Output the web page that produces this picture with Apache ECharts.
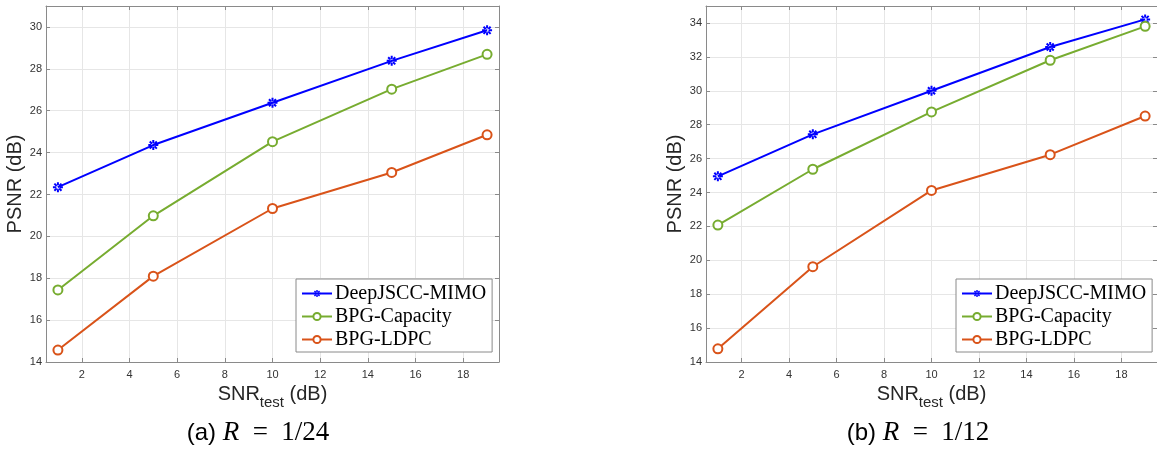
<!DOCTYPE html>
<html>
<head>
<meta charset="utf-8">
<script src="https://cdn.jsdelivr.net/npm/echarts@6/dist/echarts.min.js"></script>
<style>html,body{margin:0;padding:0;background:#fff;}#c{width:1157px;height:453px;}</style>
</head>
<body>
<div id="c"></div>
<script>
const snr = [1, 5, 10, 15, 19];
const seriesNames = ['DeepJSCC-MIMO', 'BPG-Capacity', 'BPG-LDPC'];
// (a) R = 1/24
const a_deep = [22.35, 24.36, 26.38, 28.38, 29.84];
const a_cap  = [17.44, 20.98, 24.52, 27.03, 28.69];
const a_ldpc = [14.57, 18.10, 21.33, 23.05, 24.85];
// (b) R = 1/12
const b_deep = [24.95, 27.43, 30.00, 32.58, 34.21];
const b_cap  = [22.08, 25.37, 28.75, 31.80, 33.80];
const b_ldpc = [14.78, 19.62, 24.12, 26.23, 28.51];
const xTicks = [2, 4, 6, 8, 10, 12, 14, 16, 18];
const yTicksA = [14, 16, 18, 20, 22, 24, 26, 28, 30];
const yTicksB = [14, 16, 18, 20, 22, 24, 26, 28, 30, 32, 34];
const captions = ['(a)', '(b)'];
const rates = ['1/24', '1/12'];

const colors = ['#0000FF', '#77AC30', '#D95319'];
const asterisk = 'path://M-1,-0.2L1,-0.2L1,0.2L-1,0.2Z M-0.2,-1L0.2,-1L0.2,1L-0.2,1Z M-0.85,-0.57L0.57,0.85L0.85,0.57L-0.57,-0.85Z M0.57,-0.85L-0.85,0.57L-0.57,0.85L0.85,-0.57Z';
const frame = '#8a8a8a';
const sans = 'Liberation Sans';
const serif = 'Liberation Serif';

const grids = [
  {left: 46, top: 6, width: 453, height: 356},
  {left: 706, top: 6, width: 453, height: 356}
];
const yMax = [31, 35];
const yTicks = [yTicksA, yTicksB];
const data = [[a_deep, a_cap, a_ldpc], [b_deep, b_cap, b_ldpc]];

const xAxis = [], yAxis = [], series = [], legend = [], graphic = [];
grids.forEach((g, i) => {
  xAxis.push({
    gridIndex: i, type: 'value', min: 0.5, max: 19.5, position: 'bottom',
    name: '{m|SNR}{s|test}{m| (dB)}', nameLocation: 'middle', nameGap: 17,
    nameTextStyle: {rich: {
      m: {fontFamily: sans, fontSize: 20, color: '#262626', lineHeight: 30, verticalAlign: 'middle'},
      s: {fontFamily: sans, fontSize: 15, color: '#262626', lineHeight: 30, verticalAlign: 'bottom', padding: [10, 0, 0, 0]}
    }},
    axisLine: {show: true, onZero: false, lineStyle: {color: frame, width: 1}},
    axisTick: {show: true, inside: true, length: 4, customValues: xTicks, lineStyle: {color: frame}},
    axisLabel: {customValues: xTicks, fontFamily: sans, fontSize: 11, color: '#333', margin: 7},
    splitLine: {show: true, lineStyle: {color: '#e6e6e6', width: 1}}
  });
  xAxis.push({
    gridIndex: i, type: 'value', min: 0.5, max: 19.5, position: 'top',
    axisLine: {show: true, onZero: false, lineStyle: {color: frame, width: 1}},
    axisTick: {show: true, inside: true, length: 4, customValues: xTicks, lineStyle: {color: frame}},
    axisLabel: {show: false}, splitLine: {show: false}
  });
  yAxis.push({
    gridIndex: i, type: 'value', min: 14, max: yMax[i], position: 'left',
    name: 'PSNR (dB)', nameLocation: 'middle', nameGap: 15, nameRotate: 90,
    nameTextStyle: {fontFamily: sans, fontSize: 20, color: '#262626'},
    axisLine: {show: true, onZero: false, lineStyle: {color: frame, width: 1}},
    axisTick: {show: true, inside: true, length: 4, customValues: yTicks[i], lineStyle: {color: frame}},
    axisLabel: {customValues: yTicks[i], fontFamily: sans, fontSize: 11, color: '#333', margin: 4},
    splitLine: {show: true, lineStyle: {color: '#e6e6e6', width: 1}}
  });
  yAxis.push({
    gridIndex: i, type: 'value', min: 14, max: yMax[i], position: 'right',
    axisLine: {show: true, onZero: false, lineStyle: {color: frame, width: 1}},
    axisTick: {show: true, inside: true, length: 4, customValues: yTicks[i], lineStyle: {color: frame}},
    axisLabel: {show: false}, splitLine: {show: false}
  });
  data[i].forEach((vals, k) => {
    series.push({
      name: seriesNames[k], type: 'line', xAxisIndex: 2 * i, yAxisIndex: 2 * i,
      data: snr.map((x, j) => [x, vals[j]]),
      color: colors[k],
      lineStyle: {width: 2, color: colors[k]},
      symbol: k === 0 ? asterisk : 'emptyCircle',
      symbolSize: k === 0 ? 10 : 9,
      itemStyle: k === 0 ? {color: colors[k], borderWidth: 0} : {color: colors[k], borderColor: colors[k], borderWidth: 1.6},
      showSymbol: true, animation: false, z: 3 + k
    });
  });
  legend.push({
    left: g.left + 250, top: 279, orient: 'vertical',
    data: seriesNames, itemWidth: 30, itemHeight: 9, itemGap: 2,
    padding: [4, 6, 2, 5], borderColor: '#8a8a8a', borderWidth: 1, backgroundColor: '#fff',
    textStyle: {fontFamily: serif, fontSize: 20, color: '#000', lineHeight: 21, padding: [0, 0, 0, -2]},
    selectedMode: false
  });
  const cx = g.left + 212;
  graphic.push({
    type: 'text', x: cx, y: 433,
    style: {
      text: '{a|' + captions[i] + ' }{r|R}{b|\u2002=\u2002' + rates[i] + '}',
      align: 'center', verticalAlign: 'middle',
      rich: {
        a: {fontFamily: sans, fontSize: 24, fill: '#000'},
        r: {fontFamily: serif, fontStyle: 'italic', fontSize: 27, fill: '#000'},
        b: {fontFamily: serif, fontSize: 27, fill: '#000'}
      }
    }
  });
});

const chart = echarts.init(document.getElementById('c'), null, {renderer: 'canvas'});
chart.setOption({
  animation: false,
  backgroundColor: '#fff',
  grid: grids,
  xAxis, yAxis, series, legend, graphic
});
</script>
</body>
</html>
